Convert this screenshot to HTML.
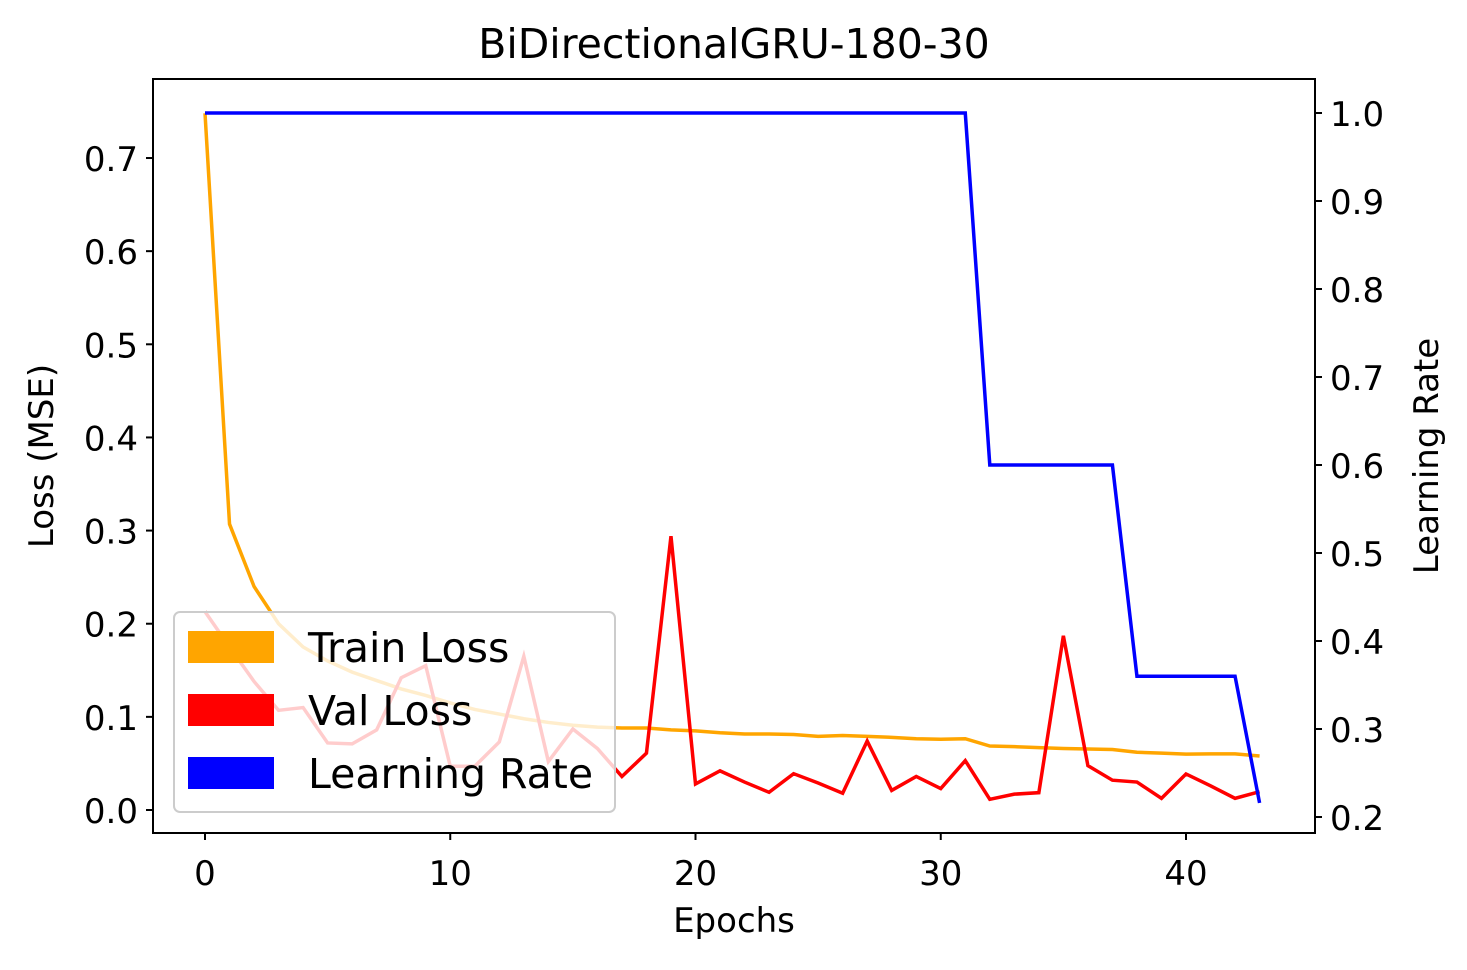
<!DOCTYPE html>
<html><head><meta charset="utf-8"><style>
html,body{margin:0;padding:0;background:#fff;}
svg text{font-family:"DejaVu Sans","Liberation Sans",sans-serif;fill:#000;}
</style></head><body>
<svg id="chart" width="1467" height="965" viewBox="0 0 1467 965" xmlns="http://www.w3.org/2000/svg">
<rect width="1467" height="965" fill="#fff"/>
<text x="734" y="58" font-size="41" text-anchor="middle">BiDirectionalGRU-180-30</text>
<g id="plot"></g>
<rect x="153" y="79" width="1162" height="754" fill="none" stroke="#000" stroke-width="2"/>
<g id="ticks"></g>
<text x="734" y="932" font-size="34" text-anchor="middle">Epochs</text>
<text transform="translate(53,456) rotate(-90)" font-size="34" text-anchor="middle">Loss (MSE)</text>
<text transform="translate(1438,456) rotate(-90)" font-size="34" text-anchor="middle">Learning Rate</text>
<g id="legend">
<rect x="174" y="612" width="441" height="200" rx="6" fill="rgba(255,255,255,0.8)" stroke="#ccc" stroke-width="2"/>
<rect x="188" y="631" width="86" height="32" fill="orange"/>
<text x="308" y="662" font-size="41">Train Loss</text>
<rect x="188" y="694" width="86" height="32" fill="red"/>
<text x="308" y="725" font-size="41">Val Loss</text>
<rect x="188" y="757" width="86" height="32" fill="blue"/>
<text x="308" y="788" font-size="41">Learning Rate</text>
</g>
</svg>
<script>
const epochs = Array.from({length:44},(_,i)=>i);
const trainLoss = [0.748,0.307,0.24,0.2,0.175,0.16,0.148,0.139,0.13,0.123,0.115,0.108,0.103,0.098,0.094,0.091,0.089,0.088,0.088,0.086,0.085,0.083,0.0816,0.0816,0.081,0.079,0.080,0.079,0.078,0.0765,0.076,0.0765,0.0687,0.068,0.067,0.066,0.0655,0.065,0.062,0.061,0.060,0.0602,0.0602,0.058];
const valLoss = [0.213,0.175,0.138,0.107,0.110,0.072,0.071,0.086,0.142,0.155,0.047,0.047,0.073,0.165,0.052,0.087,0.066,0.036,0.061,0.294,0.028,0.042,0.030,0.019,0.039,0.029,0.018,0.074,0.021,0.036,0.023,0.053,0.0115,0.017,0.0186,0.187,0.0476,0.032,0.030,0.0125,0.0387,0.026,0.0125,0.0197];
const learningRate = [1,1,1,1,1,1,1,1,1,1,1,1,1,1,1,1,1,1,1,1,1,1,1,1,1,1,1,1,1,1,1,1,0.6,0.6,0.6,0.6,0.6,0.6,0.36,0.36,0.36,0.36,0.36,0.216];
const xTicks = [0,10,20,30,40];
const yTicks = [0.0,0.1,0.2,0.3,0.4,0.5,0.6,0.7];
const y2Ticks = [0.2,0.3,0.4,0.5,0.6,0.7,0.8,0.9,1.0];

const NS="http://www.w3.org/2000/svg";
const X = e => 205 + (1186-205)*e/40;
const Y = v => 810 - v*931.4;
const Y2 = v => 817 - (v-0.2)*(817-113)/0.8;
function mk(tag,attrs,parent){const el=document.createElementNS(NS,tag);for(const k in attrs)el.setAttribute(k,attrs[k]);parent.appendChild(el);return el;}
const plot=document.getElementById('plot'), ticks=document.getElementById('ticks');
function line(vals,fy,color,name){
  const el=mk('polyline',{points:vals.map((v,i)=>X(epochs[i])+','+fy(v)).join(' '),fill:'none',stroke:color,'stroke-width':3.5,'stroke-linejoin':'miter'},plot);
  
  
}
line(trainLoss,Y,'orange','train-loss-line');
line(valLoss,Y,'red','val-loss-line');
line(learningRate,Y2,'blue','learning-rate-line');
xTicks.forEach(t=>{
  mk('line',{x1:X(t),x2:X(t),y1:833,y2:840,stroke:'#000','stroke-width':2},ticks);
  const tx=mk('text',{x:X(t),y:885,'font-size':34,'text-anchor':'middle'},ticks);tx.textContent=t;
  
  
});
yTicks.forEach(t=>{
  mk('line',{x1:146,x2:153,y1:Y(t),y2:Y(t),stroke:'#000','stroke-width':2},ticks);
  const tx=mk('text',{x:138,y:Y(t)+13,'font-size':34,'text-anchor':'end'},ticks);tx.textContent=t.toFixed(1);
  
  
});
y2Ticks.forEach(t=>{
  mk('line',{x1:1315,x2:1322,y1:Y2(t),y2:Y2(t),stroke:'#000','stroke-width':2},ticks);
  const tx=mk('text',{x:1330,y:Y2(t)+13,'font-size':34,'text-anchor':'start'},ticks);tx.textContent=t.toFixed(1);
  
  
});
</script>
</body></html>
